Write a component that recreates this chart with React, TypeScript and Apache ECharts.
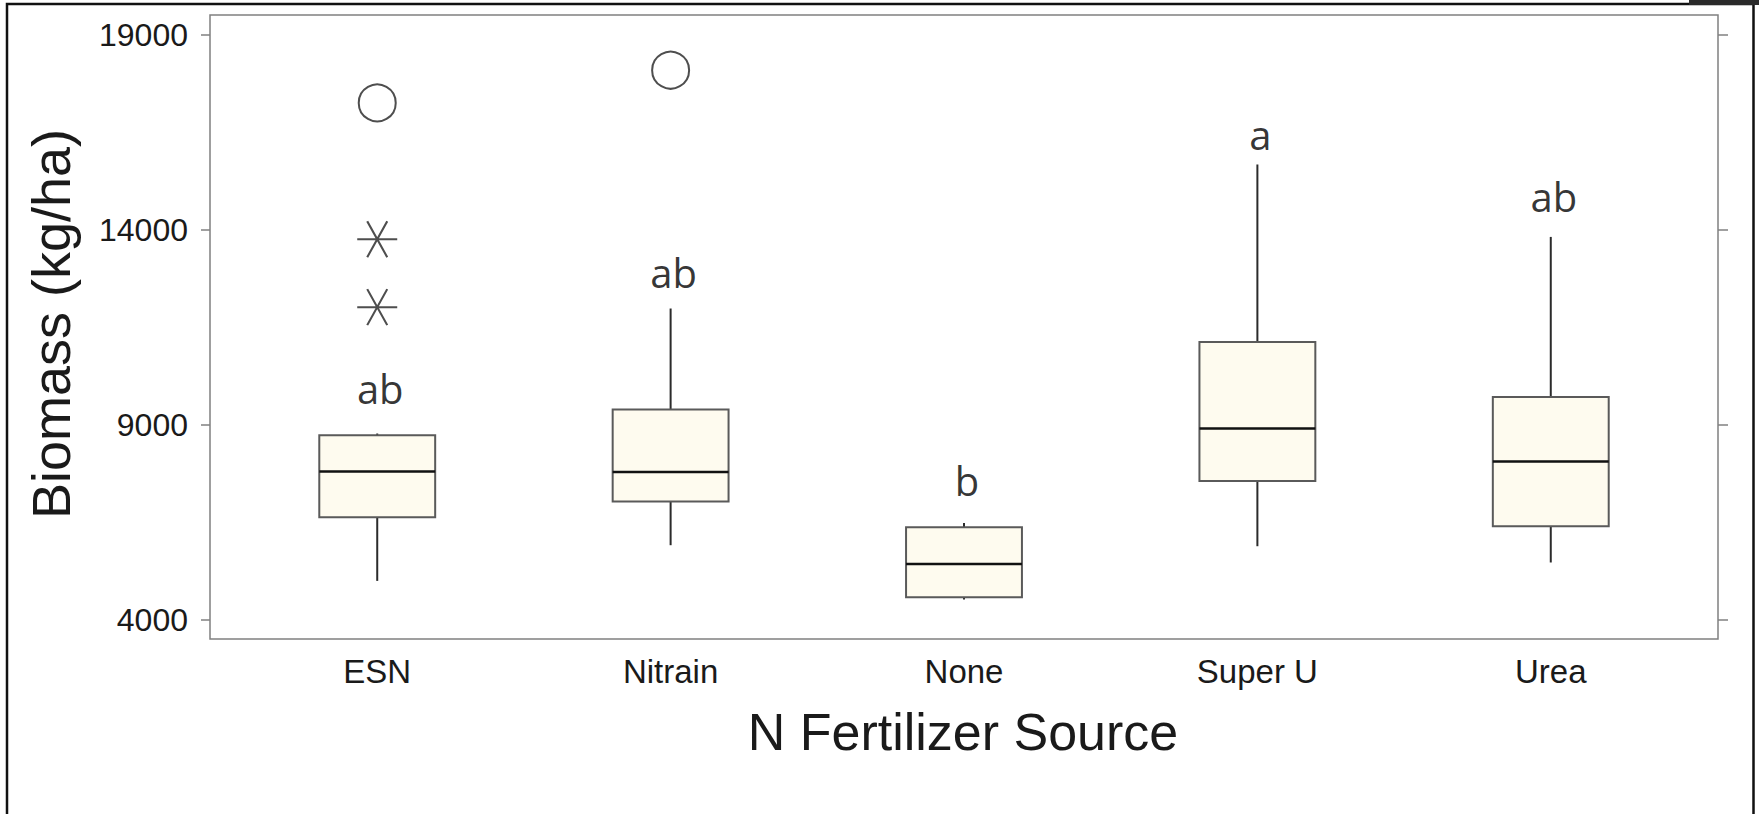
import React, { useEffect, useRef } from "react";
import * as echarts from "echarts";

// ---- data ----
const categories = ["ESN", "Nitrain", "None", "Super U", "Urea"];
const whiskerLow = [4990, 5905, 4513, 5879, 5462];
const quartile1 = [6623, 7026, 4572, 7554, 6392];
const medians = [7795, 7785, 5426, 8897, 8051];
const quartile3 = [8726, 9385, 6367, 11118, 9708];
const whiskerHigh = [8769, 11974, 6477, 15667, 13810];
const circleOutliers: [string, number][] = [
  ["ESN", 17246],
  ["Nitrain", 18085],
];
const starOutliers: [string, number][] = [
  ["ESN", 13751],
  ["ESN", 12008],
];
const groupLetters = ["ab", "ab", "b", "a", "ab"];
const letterHeights = [9930, 12900, 7570, 16440, 14850];
const yTicks = [4000, 9000, 14000, 19000];
const yTitle = "Biomass (kg/ha)";
const xTitle = "N Fertilizer Source";

const catPos = (name: string) => categories.indexOf(name) + 1;

const ASTERISK = "path://M0,17.3L40,17.3M10,0L30,34.6M30,0L10,34.6";
const FONT = "'Liberation Sans', Arial, Helvetica, sans-serif";

export default function App() {
  const ref = useRef<HTMLDivElement>(null);

  useEffect(() => {
    if (!ref.current) return;
    const chart = echarts.init(ref.current, null, { renderer: "svg" });

    const boxData = categories.map((c, i) => [
      i + 1,
      whiskerLow[i],
      quartile1[i],
      medians[i],
      quartile3[i],
      whiskerHigh[i],
    ]);

    const option: any = {
      animation: false,
      backgroundColor: "#ffffff",
      grid: {
        left: 210,
        top: 15,
        width: 1508,
        height: 624,
        show: true,
        borderColor: "#808080",
        borderWidth: 1.5,
        backgroundColor: "#ffffff",
      },
      xAxis: {
        type: "value",
        min: 0.43,
        max: 5.57,
        axisLine: { show: false },
        axisTick: { show: false },
        splitLine: { show: false },
        axisLabel: {
          customValues: [1, 2, 3, 4, 5],
          formatter: (v: number) => categories[Math.round(v) - 1] ?? "",
          fontFamily: FONT,
          fontSize: 33,
          color: "#1a1a1a",
          margin: 16,
        },
      },
      yAxis: [
        {
          type: "value",
          position: "left",
          min: 3500,
          max: 19500,
          axisLine: { show: false },
          splitLine: { show: false },
          axisTick: {
            show: true,
            inside: false,
            length: 9,
            customValues: yTicks,
            lineStyle: { color: "#808080", width: 1.5 },
          },
          axisLabel: {
            customValues: yTicks,
            formatter: (v: number) => String(v),
            fontFamily: FONT,
            fontSize: 32,
            color: "#1a1a1a",
            margin: 22,
          },
        },
        {
          type: "value",
          position: "right",
          min: 3500,
          max: 19500,
          axisLine: { show: false },
          splitLine: { show: false },
          axisTick: {
            show: true,
            inside: false,
            length: 10,
            customValues: yTicks,
            lineStyle: { color: "#808080", width: 1.5 },
          },
          axisLabel: { show: false, customValues: yTicks },
        },
      ],
      series: [
        {
          type: "custom",
          silent: true,
          data: boxData,
          encode: { x: 0, y: [1, 2, 3, 4, 5] },
          renderItem: (params: any, api: any) => {
            const x = api.value(0);
            const pMin = api.coord([x, api.value(1)]);
            const pQ1 = api.coord([x, api.value(2)]);
            const pMed = api.coord([x, api.value(3)]);
            const pQ3 = api.coord([x, api.value(4)]);
            const pMax = api.coord([x, api.value(5)]);
            const half = (api.size([1, 0])[0] * 0.395) / 2;
            const cx = pMed[0];
            return {
              type: "group",
              children: [
                {
                  type: "line",
                  shape: { x1: cx, y1: pMax[1], x2: cx, y2: pQ3[1] },
                  style: { stroke: "#2b2b2b", lineWidth: 2 },
                },
                {
                  type: "line",
                  shape: { x1: cx, y1: pQ1[1], x2: cx, y2: pMin[1] },
                  style: { stroke: "#2b2b2b", lineWidth: 2 },
                },
                {
                  type: "rect",
                  shape: {
                    x: cx - half,
                    y: pQ3[1],
                    width: half * 2,
                    height: pQ1[1] - pQ3[1],
                  },
                  style: { fill: "#fefbef", stroke: "#5a5a5a", lineWidth: 2 },
                },
                {
                  type: "line",
                  shape: { x1: cx - half, y1: pMed[1], x2: cx + half, y2: pMed[1] },
                  style: { stroke: "#111111", lineWidth: 2.5 },
                },
              ],
            };
          },
        },
        {
          type: "scatter",
          silent: true,
          symbol: "circle",
          symbolSize: 37,
          data: circleOutliers.map(([c, v]) => [catPos(c), v]),
          itemStyle: { color: "rgba(0,0,0,0)", borderColor: "#222222", borderWidth: 2 },
        },
        {
          type: "scatter",
          silent: true,
          symbol: ASTERISK,
          symbolSize: [40, 36],
          data: starOutliers.map(([c, v]) => [catPos(c), v]),
          itemStyle: { color: "rgba(0,0,0,0)", borderColor: "#222222", borderWidth: 2 },
        },
        {
          type: "scatter",
          silent: true,
          symbolSize: 1,
          itemStyle: { color: "rgba(0,0,0,0)" },
          data: groupLetters.map((t, i) => ({ value: [i + 1, letterHeights[i]], name: t })),
          label: {
            show: true,
            position: "inside",
            offset: [3, 0],
            formatter: (p: any) => p.name,
            fontFamily: "'Open Sans', 'Noto Sans', sans-serif",
            fontWeight: 500,
            fontSize: 40,
            color: "#000000",
          },
        },
      ],
      graphic: [
        {
          type: "rect",
          silent: true,
          shape: { x: 7, y: 4, width: 1746.5, height: 900 },
          style: { fill: "none", stroke: "#111111", lineWidth: 2.5 },
        },
        {
          type: "rect",
          silent: true,
          shape: { x: 1689, y: 0, width: 70, height: 5 },
          style: { fill: "#2a2a2a" },
        },
        {
          type: "text",
          silent: true,
          x: 51,
          y: 324,
          rotation: Math.PI / 2,
          style: {
            text: yTitle,
            font: `54px ${FONT}`,
            fill: "#1a1a1a",
            align: "center",
            verticalAlign: "middle",
          },
        },
        {
          type: "text",
          silent: true,
          x: 963,
          y: 732,
          style: {
            text: xTitle,
            font: `52px ${FONT}`,
            fill: "#1a1a1a",
            align: "center",
            verticalAlign: "middle",
          },
        },
      ],
    };

    chart.setOption(option);
    return () => chart.dispose();
  }, []);

  return (
    <div
      ref={ref}
      style={{
        position: "fixed",
        left: 0,
        top: 0,
        width: 1759,
        height: 814,
        background: "#ffffff",
      }}
    />
  );
}
